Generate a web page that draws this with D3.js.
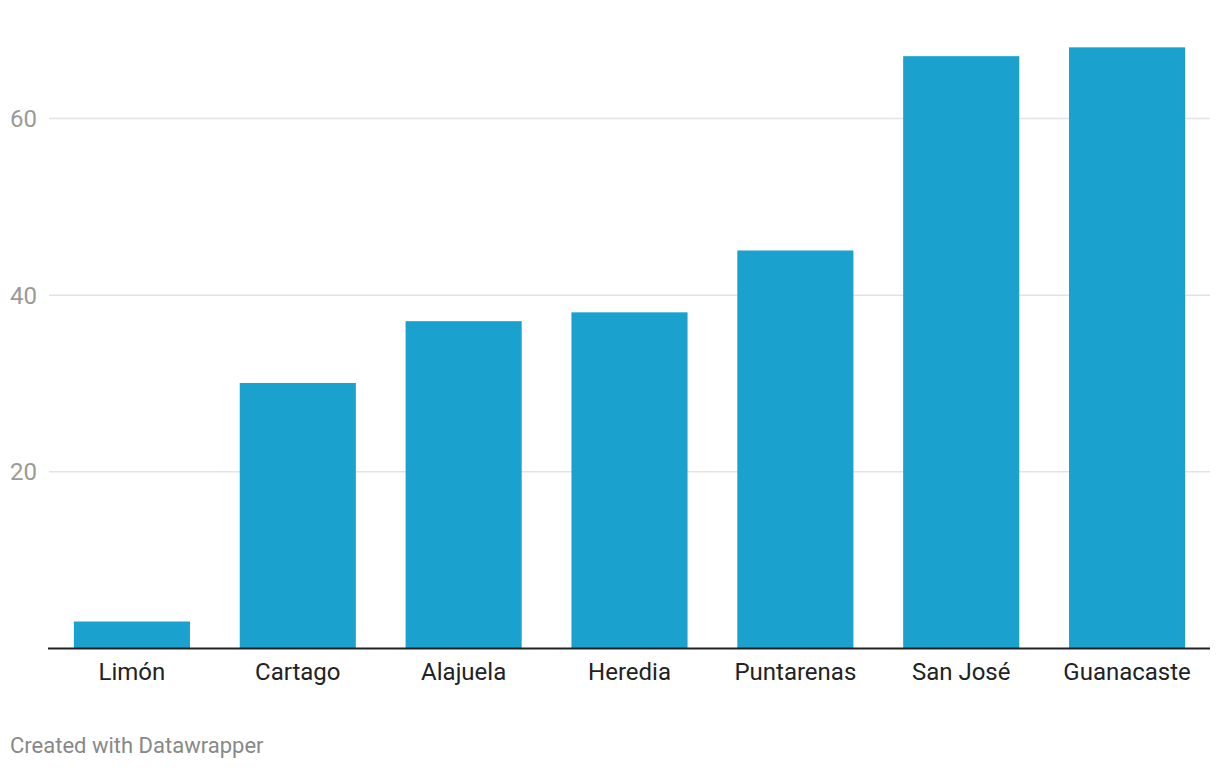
<!DOCTYPE html>
<html><head><meta charset="utf-8">
<script src="https://cdn.jsdelivr.net/npm/d3@7"></script>
<style>body{margin:0;background:#fff;font-family:Roboto,sans-serif;}</style>
</head><body><svg id="c" width="1220" height="768"></svg>
<script>
const categories = ["Limón","Cartago","Alajuela","Heredia","Puntarenas","San José","Guanacaste"];
const values = [3,30,37,38,45,67,68];
const yTicks = [20,40,60];

const svg = d3.select("#c");
const x = d3.scaleBand().domain(categories).range([49,1210]).paddingInner(0.3).paddingOuter(0.15);
const y = d3.scaleLinear().domain([0,60]).range([648,118]);

// gridlines
svg.append("g").selectAll("line").data(yTicks).join("line")
  .attr("x1",49).attr("x2",1210)
  .attr("y1",d=>y(d)+0.5).attr("y2",d=>y(d)+0.5)
  .attr("stroke","#e3e3e3").attr("stroke-width",1.5);
svg.append("g").selectAll("text").data(yTicks).join("text")
  .attr("x",10).attr("y",d=>y(d)+9)
  .attr("fill","#9a9a9a").attr("font-size",24).attr("font-family","Roboto")
  .text(d=>d);

// bars
svg.append("g").selectAll("rect").data(values).join("rect")
  .attr("x",(d,i)=>x(categories[i])).attr("width",x.bandwidth())
  .attr("y",d=>y(d)).attr("height",d=>y(0)-y(d))
  .attr("fill","#1aa1ce");

// x axis
const xAxis = d3.axisBottom(x).tickSize(0).tickPadding(0);
const gx = svg.append("g").attr("transform",`translate(0,${y(0)})`).call(xAxis);
gx.select(".domain").remove();
gx.selectAll("text").attr("y",32).attr("dy",0).attr("font-size",24).attr("font-family","Roboto").attr("fill","#222");
svg.append("line").attr("x1",48).attr("x2",1210).attr("y1",y(0)+0.5).attr("y2",y(0)+0.5)
  .attr("stroke","#222").attr("stroke-width",2);

svg.append("text").attr("x",10).attr("y",753).attr("fill","#888")
  .attr("font-size",22).attr("font-family","Roboto").text("Created with Datawrapper");
</script></body></html>
